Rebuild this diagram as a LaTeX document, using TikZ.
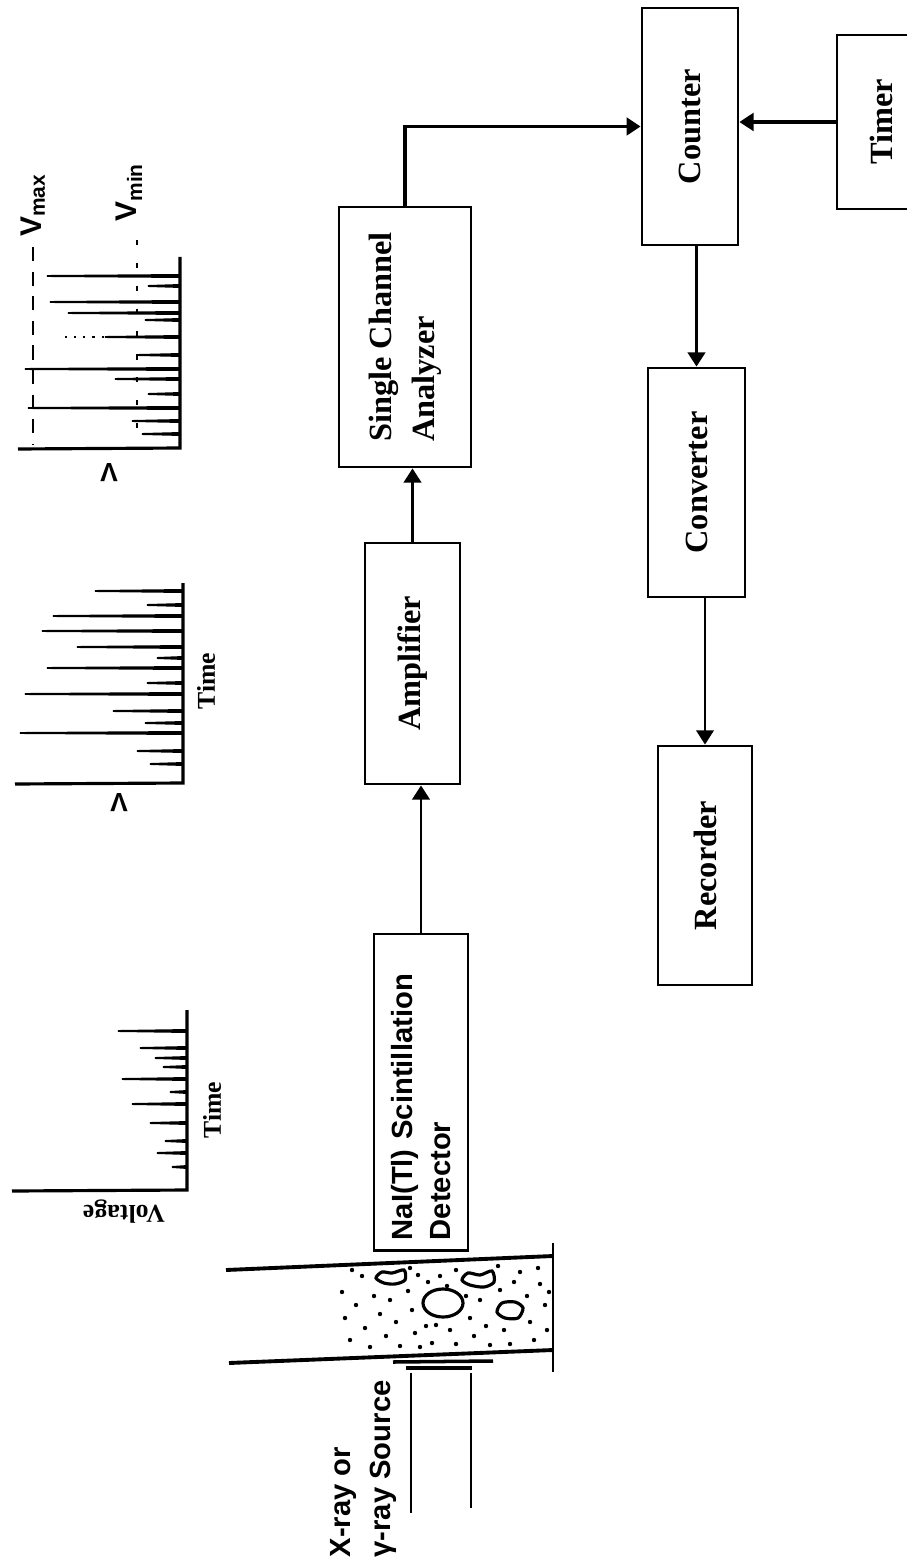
\documentclass[tikz,border=0pt]{standalone}
\usepackage{fontspec}
\setmainfont{Liberation Serif}
\setsansfont{Liberation Sans}
\usetikzlibrary{arrows.meta}
\tikzset{
 unit/.style={draw,line width=0.8pt,rotate=90,font=\fontsize{9.2}{12.2}\selectfont\bfseries,align=center,inner sep=0pt},
 arr/.style={line width=0.6pt,-{Triangle[length=4pt,width=5pt]}},
 pulse/.style={fill=black,line width=0.55pt,line join=miter},
 axis/.style={line width=0.9pt},
 lbl/.style={font=\fontsize{7.3}{8}\selectfont\bfseries,inner sep=0pt},
 vlbl/.style={font=\fontsize{8.5}{9}\selectfont\sffamily\bfseries,inner sep=0pt},
}
\begin{document}
\begin{tikzpicture}[x=0.01cm,y=-0.01cm]
 \useasboundingbox(0,0)rectangle(906,1564);
 \node[unit,minimum width=2.37cm,minimum height=0.96cm](counter)at(690,126.5){Counter};
 \node[unit,minimum width=1.74cm,minimum height=0.88cm](timer)at(881,122){Timer};
 \node[unit,align=left,minimum width=2.60cm,minimum height=1.32cm](sca)at(405,337){Single Channel\\Analyzer};
 \node[unit,minimum width=2.41cm,minimum height=0.95cm](amp)at(412.5,663.5){Amplifier};
 \node[unit,minimum width=2.29cm,minimum height=0.97cm](conv)at(696.5,482.5){Converter};
 \node[unit,minimum width=2.39cm,minimum height=0.94cm](rec)at(705,865.5){Recorder};
 \node[unit,font=\fontsize{8.3}{11}\selectfont\sffamily\bfseries,align=left,text width=2.96cm,inner xsep=0.1cm,minimum height=0.94cm](det)at(421,1092){NaI(Tl) Scintillation\\Detector};
 \draw[arr](det.east)--(det.east |- amp.west);
 \draw[arr](amp.east)--(amp.east |- sca.west);
 \draw[arr,line width=0.9pt](sca.east)|-(counter.north);
 \draw[arr,line width=0.9pt](timer.north)--(timer.north -| counter.south);
 \draw[arr](conv.east |- counter.west)--(conv.east);
 \draw[arr,line width=0.4pt](rec.east |- conv.west)--(rec.east);
 \draw[line width=1.1pt](226,1270)--(553,1256);
 \draw[line width=1.1pt](229,1363)--(553,1350);
 \draw[line width=0.6pt](553,1243)--(553,1372);
 \foreach \p in {(342,1292),(345,1318),(350,1340),(356,1305),(362,1276),(365,1328),(370,1347),(374,1296),(380,1314),(386,1336),(390,1300),(396,1322),(400,1346),(408,1291),(412,1310),(415,1333),(418,1275),(420,1347),(428,1282),(426,1326),(432,1343),(440,1276),(447,1286),(450,1330),(456,1344),(466,1296),(470,1318),(474,1336),(480,1300),(486,1326),(490,1345),(498,1266),(500,1290),(504,1330),(510,1344),(514,1282),(520,1272),(527,1296),(530,1322),(534,1340),(538,1268),(540,1284),(545,1305),(547,1330),(549,1292),(456,1270),(410,1268),(352,1270),(436,1325)}
  \fill\p circle[radius=2.2];
 \draw[line width=0.9pt]plot[smooth cycle]coordinates{(376,1278)(382,1272)(392,1273)(404,1270)(405,1280)(395,1284)(384,1283)};
 \draw[line width=0.9pt]plot[smooth cycle]coordinates{(462,1280)(468,1273)(480,1275)(492,1271)(494,1282)(484,1287)(470,1285)};
 \draw[line width=0.9pt](443,1303)ellipse[x radius=20,y radius=14];
 \draw[line width=0.9pt]plot[smooth cycle]coordinates{(497,1312)(502,1303)(515,1302)(523,1308)(518,1318)(505,1318)};
 \draw[line width=1pt](393,1362)--(493,1361);
 \draw[line width=1pt](406,1368)--(472,1368);
 \draw[line width=0.6pt](411,1373)--(411,1513);
 \draw[line width=0.6pt](471,1373)--(471,1508);
 \node[rotate=90,anchor=north west,align=left,inner sep=0pt,font=\fontsize{8.3}{11.4}\selectfont\sffamily\bfseries](src)at(330,1558){X-ray or\\γ-ray Source};
 \draw[axis](187,1010)--(187,1190)--(12,1191);
 \draw[pulse](187,1030)--(118,1031)--(187,1032);
 \draw[pulse](187,1047)--(140,1048)--(187,1049);
 \draw[pulse](187,1057)--(155,1058)--(187,1059);
 \draw[pulse](187,1066)--(163,1067)--(187,1068);
 \draw[pulse](187,1078)--(122,1079)--(187,1080);
 \draw[pulse](187,1091)--(170,1092)--(187,1093);
 \draw[pulse](187,1103)--(132,1104)--(187,1105);
 \draw[pulse](187,1122)--(150,1123)--(187,1124);
 \draw[pulse](187,1140)--(165,1141)--(187,1142);
 \draw[pulse](187,1152)--(157,1153)--(187,1154);
 \draw[pulse](187,1166)--(172,1167)--(187,1168);
 \node[lbl,rotate=90](time1)at(212,1110){Time};
 \node[lbl,rotate=180](volt)at(124,1212){Voltage};
 \draw[axis](183,583)--(183,783)--(15,784);
 \draw[pulse](183,590)--(95,591)--(183,592);
 \draw[pulse](183,604)--(147,605)--(183,606);
 \draw[pulse](183,615)--(53,616)--(183,617);
 \draw[pulse](183,630)--(42,631)--(183,632);
 \draw[pulse](183,646)--(77,647)--(183,648);
 \draw[pulse](183,657)--(157,658)--(183,659);
 \draw[pulse](183,667)--(47,668)--(183,669);
 \draw[pulse](183,682)--(147,683)--(183,684);
 \draw[pulse](183,693)--(25,694)--(183,695);
 \draw[pulse](183,710)--(113,711)--(183,712);
 \draw[pulse](183,722)--(145,723)--(183,724);
 \draw[pulse](183,732)--(20,733)--(183,734);
 \draw[pulse](183,750)--(137,751)--(183,752);
 \draw[pulse](183,763)--(150,764)--(183,765);
 \node[lbl,rotate=90](time2)at(206,681){Time};
 \node[vlbl,font=\fontsize{7.5}{8}\selectfont\sffamily\bfseries,rotate=180](v2)at(119,803){V};
 \draw[axis](180,257)--(180,448)--(18,449);
 \draw[pulse](180,275)--(47,276)--(180,277);
 \draw[pulse](180,285)--(148,286)--(180,287);
 \draw[pulse](180,301)--(50,302)--(180,303);
 \draw[pulse](180,312)--(68,313)--(180,314);
 \draw[pulse](180,319)--(145,320)--(180,321);
 \draw[pulse](180,336)--(105,337)--(180,338);
 \draw[pulse](180,354)--(138,355)--(180,356);
 \draw[pulse](180,368)--(25,369)--(180,370);
 \draw[pulse](180,378)--(115,379)--(180,380);
 \draw[pulse](180,393)--(148,394)--(180,395);
 \draw[pulse](180,407)--(28,408)--(180,409);
 \draw[pulse](180,420)--(132,421)--(180,422);
 \draw[pulse](180,433)--(142,434)--(180,435);
 \draw[dotted,line width=0.6pt](65,337)--(105,337);
 \draw[line width=0.6pt,dash pattern=on 4pt off 3pt](33,247)--(33,445);
 \draw[line width=0.5pt,dash pattern=on 1.5pt off 5pt](137,240)--(137,445);
 \node[vlbl,rotate=90](vmax)at(33,205){V\textsubscript{max}};
 \node[vlbl,rotate=90](vmin)at(129,192){V\textsubscript{min}};
 \node[vlbl,font=\fontsize{7.5}{8}\selectfont\sffamily\bfseries,rotate=180](v3)at(109,473){V};
\end{tikzpicture}
\end{document}
